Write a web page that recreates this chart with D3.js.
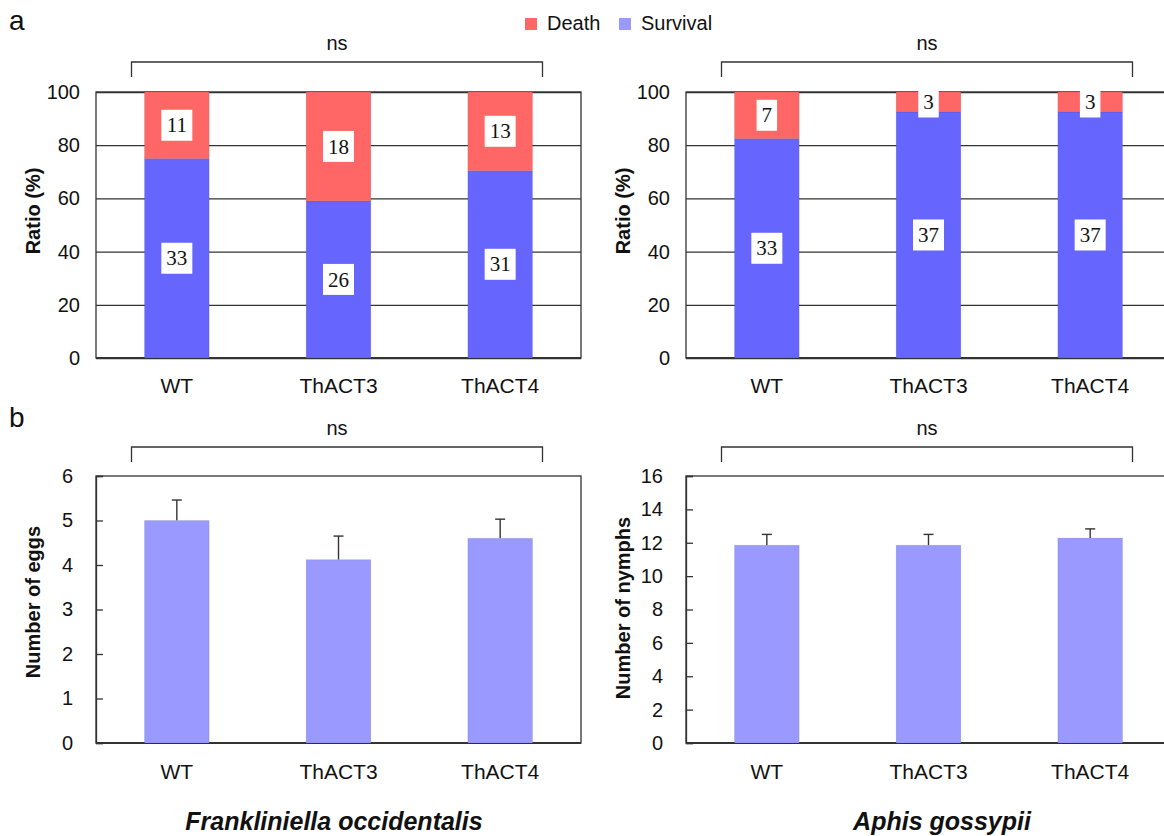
<!DOCTYPE html>
<html>
<head>
<meta charset="utf-8">
<script src="https://cdn.jsdelivr.net/npm/d3@7"></script>
<style>
  html, body { margin: 0; padding: 0; background: #fff; }
  svg { display: block; }
  text { font-family: "Liberation Sans", Arial, Helvetica, sans-serif; fill: #111; }
</style>
</head>
<body>
<svg id="chart" width="1164" height="836"></svg>
<script>
// ---------- data ----------
const categories = ["WT", "ThACT3", "ThACT4"];
const seriesNames = ["Death", "Survival"];

// panel a: counts (labels) -> stacked ratio (%)
const thripsDeath = [11, 18, 13];
const thripsSurvival = [33, 26, 31];
const aphidDeath = [7, 3, 3];
const aphidSurvival = [33, 37, 37];

// panel b: means with upper error bars
const eggsMean = [5.0, 4.12, 4.6];
const eggsErr = [0.46, 0.53, 0.43];
const nymphsMean = [11.85, 11.85, 12.28];
const nymphsErr = [0.65, 0.65, 0.55];

const ratioTicks = [0, 20, 40, 60, 80, 100];
const eggTicks = [0, 1, 2, 3, 4, 5, 6];
const nymphTicks = [0, 2, 4, 6, 8, 10, 12, 14, 16];

const sigLabel = "ns";
const speciesNames = ["Frankliniella occidentalis", "Aphis gossypii"];

// ---------- styles ----------
const colDeath = "#ff6666";
const colSurv = "#6666ff";
const colSurvLight = "#9999ff";
const lineCol = "#333";

const svg = d3.select("#chart");

const panelW = 485;
const leftXs = [96, 686];
const topY = [92, 358];
const botY = [476, 743];

function xScale(x0) {
  return d3.scaleBand().domain(categories).range([x0, x0 + panelW]).paddingInner(0.6).paddingOuter(0.3);
}

function bracket(x, y0) {
  const xl = x("WT") - 13;
  const xr = x("ThACT4") + x.bandwidth() + 10;
  const g = svg.append("g");
  g.append("path")
    .attr("d", `M${xl},${y0 + 15}V${y0}H${xr}V${y0 + 15}`)
    .attr("fill", "none").attr("stroke", lineCol).attr("stroke-width", 1.3);
  g.append("text").attr("x", (xl + xr) / 2).attr("y", y0 - 12)
    .attr("text-anchor", "middle").style("font-size", "20px").text(sigLabel);
}

function xLabels(x, yBase) {
  svg.append("g").selectAll("text").data(categories).join("text")
    .attr("x", d => x(d) + x.bandwidth() / 2)
    .attr("y", yBase + 35)
    .attr("text-anchor", "middle").style("font-size", "21px").text(d => d);
}

function yTitle(x0, yCenter, label) {
  svg.append("text")
    .attr("transform", `translate(${x0 - 56},${yCenter}) rotate(-90)`)
    .attr("text-anchor", "middle")
    .style("font-size", "20px").style("font-weight", "bold").text(label);
}

// ---------- panel a ----------
function stackedPanel(x0, death, surv) {
  const x = xScale(x0);
  const y = d3.scaleLinear().domain([0, 100]).range([topY[1], topY[0]]);
  const rows = categories.map((c, i) => {
    const tot = death[i] + surv[i];
    return { cat: c, Survival: surv[i] / tot * 100, Death: death[i] / tot * 100, nS: surv[i], nD: death[i] };
  });
  const stack = d3.stack().keys(["Survival", "Death"])(rows);

  // grid lines + frame
  const ax = d3.axisLeft(y).tickValues(ratioTicks).tickSize(-panelW).tickPadding(16).tickFormat(d3.format("d"));
  const g = svg.append("g").attr("transform", `translate(${x0},0)`).call(ax);
  g.select(".domain").remove();
  g.selectAll(".tick line").attr("stroke", lineCol).attr("stroke-width", 1.3);
  g.selectAll(".tick text").style("font-size", "20px").attr("fill", "#111")
    .style("font-family", "'Liberation Sans', Arial, sans-serif");
  svg.append("rect").attr("x", x0).attr("y", topY[0]).attr("width", panelW).attr("height", topY[1] - topY[0])
    .attr("fill", "none").attr("stroke", lineCol).attr("stroke-width", 1.3);
  svg.append("line").attr("x1", x0).attr("x2", x0 + panelW).attr("y1", topY[1]).attr("y2", topY[1])
    .attr("stroke", lineCol).attr("stroke-width", 2);

  const colors = { Survival: colSurv, Death: colDeath };
  stack.forEach(layer => {
    svg.append("g").selectAll("rect").data(layer).join("rect")
      .attr("x", d => x(d.data.cat))
      .attr("width", x.bandwidth())
      .attr("y", d => y(d[1]))
      .attr("height", d => y(d[0]) - y(d[1]))
      .attr("fill", colors[layer.key])
      .attr("stroke", "rgba(0,0,0,0.08)").attr("stroke-width", 1);
  });

  // value boxes
  stack.forEach(layer => {
    const lg = svg.append("g");
    layer.forEach(d => {
      const n = layer.key === "Survival" ? d.data.nS : d.data.nD;
      const cx = x(d.data.cat) + x.bandwidth() / 2;
      const cy = (y(d[0]) + y(d[1])) / 2;
      const w = String(n).length * 10.5 + 10;
      lg.append("rect").attr("x", cx - w / 2).attr("y", cy - 15.5).attr("width", w).attr("height", 31)
        .attr("fill", "#fff");
      lg.append("text").attr("x", cx).attr("y", cy).attr("dy", "0.34em")
        .attr("text-anchor", "middle")
        .style("font-family", "'Liberation Serif', 'Times New Roman', serif")
        .style("font-size", "21px").text(n);
    });
  });

  bracket(x, 62);
  xLabels(x, topY[1]);
  yTitle(x0, 211, "Ratio (%)");
}

// ---------- panel b ----------
function barPanel(x0, means, errs, ticks, title, titleY) {
  const x = xScale(x0);
  const y = d3.scaleLinear().domain([0, d3.max(ticks)]).range([botY[1], botY[0]]);

  svg.append("rect").attr("x", x0).attr("y", botY[0]).attr("width", panelW).attr("height", botY[1] - botY[0])
    .attr("fill", "none").attr("stroke", lineCol).attr("stroke-width", 1.3);
  const ax = d3.axisLeft(y).tickValues(ticks).tickSize(-7).tickPadding(23).tickFormat(d3.format("d"));
  const g = svg.append("g").attr("transform", `translate(${x0},0)`).call(ax);
  g.select(".domain").attr("stroke", lineCol).attr("stroke-width", 1.3);
  g.selectAll(".tick line").attr("stroke", lineCol).attr("stroke-width", 1.3);
  g.selectAll(".tick text").style("font-size", "20px").attr("fill", "#111")
    .style("font-family", "'Liberation Sans', Arial, sans-serif");
  svg.append("line").attr("x1", x0).attr("x2", x0 + panelW).attr("y1", botY[1]).attr("y2", botY[1])
    .attr("stroke", lineCol).attr("stroke-width", 2);

  const rows = categories.map((c, i) => ({ cat: c, m: means[i], e: errs[i] }));
  // error bars (upper only)
  const eg = svg.append("g").attr("stroke", lineCol).attr("stroke-width", 1.4);
  rows.forEach(d => {
    const cx = x(d.cat) + x.bandwidth() / 2;
    eg.append("line").attr("x1", cx).attr("x2", cx).attr("y1", y(d.m)).attr("y2", y(d.m + d.e));
    eg.append("line").attr("x1", cx - 5).attr("x2", cx + 5).attr("y1", y(d.m + d.e)).attr("y2", y(d.m + d.e));
  });
  svg.append("g").selectAll("rect").data(rows).join("rect")
    .attr("x", d => x(d.cat)).attr("width", x.bandwidth())
    .attr("y", d => y(d.m)).attr("height", d => y(0) - y(d.m))
    .attr("fill", colSurvLight).attr("stroke", "rgba(0,0,0,0.08)").attr("stroke-width", 1);

  bracket(x, 447);
  xLabels(x, botY[1] + 1);
  yTitle(x0, titleY, title);
}

stackedPanel(leftXs[0], thripsDeath, thripsSurvival);
stackedPanel(leftXs[1], aphidDeath, aphidSurvival);
barPanel(leftXs[0], eggsMean, eggsErr, eggTicks, "Number of eggs", 602);
barPanel(leftXs[1], nymphsMean, nymphsErr, nymphTicks, "Number of nymphs", 608);

// species names
svg.append("text").attr("x", 334).attr("y", 830).attr("text-anchor", "middle")
  .style("font-size", "25px").style("font-weight", "bold").style("font-style", "italic").text(speciesNames[0]);
svg.append("text").attr("x", 942).attr("y", 830).attr("text-anchor", "middle")
  .style("font-size", "25px").style("font-weight", "bold").style("font-style", "italic").text(speciesNames[1]);

// panel letters
svg.append("text").attr("x", 9).attr("y", 30).style("font-size", "28px").text("a");
svg.append("text").attr("x", 9).attr("y", 427).style("font-size", "28px").text("b");

// legend
const legendColors = [colDeath, colSurvLight];
const legX = [525, 619];
const lg = svg.append("g");
seriesNames.forEach((s, i) => {
  lg.append("rect").attr("x", legX[i]).attr("y", 18).attr("width", 12).attr("height", 12).attr("fill", legendColors[i]);
  lg.append("text").attr("x", legX[i] + 22).attr("y", 30).style("font-size", "20px").text(s);
});
</script>
</body>
</html>
